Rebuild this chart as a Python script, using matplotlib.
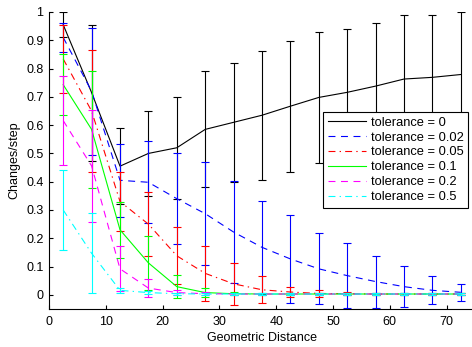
import matplotlib
matplotlib.use('Agg')
import matplotlib.pyplot as plt

plt.rcParams['font.family'] = ['Liberation Sans', 'DejaVu Sans']
plt.rcParams['font.size'] = 9
plt.rcParams['lines.scale_dashes'] = False

#%% data
distance = [2.5, 7.5, 12.5, 17.5, 22.5, 27.5, 32.5, 37.5, 42.5, 47.5, 52.5, 57.5, 62.5, 67.5, 72.5]

tol_labels = ['tolerance = 0', 'tolerance = 0.02', 'tolerance = 0.05',
              'tolerance = 0.1', 'tolerance = 0.2', 'tolerance = 0.5']

mean_0 = [0.955, 0.715, 0.455, 0.50, 0.52, 0.585, 0.61, 0.635, 0.667, 0.698, 0.716, 0.738, 0.763, 0.769, 0.779]
std_0 = [0.045, 0.24, 0.135, 0.15, 0.18, 0.205, 0.21, 0.228, 0.231, 0.232, 0.225, 0.224, 0.225, 0.219, 0.221]

mean_002 = [0.91, 0.72, 0.405, 0.398, 0.34, 0.287, 0.222, 0.168, 0.127, 0.092, 0.068, 0.047, 0.029, 0.016, 0.009]
std_002 = [0.05, 0.225, 0.128, 0.145, 0.161, 0.181, 0.179, 0.165, 0.155, 0.125, 0.115, 0.092, 0.072, 0.05, 0.031]

mean_005 = [0.834, 0.65, 0.33, 0.25, 0.138, 0.076, 0.039, 0.018, 0.010, 0.005, 0.004, 0.003, 0.003, 0.003, 0.003]
std_005 = [0.12, 0.217, 0.103, 0.114, 0.101, 0.097, 0.074, 0.047, 0.019, 0.013, 0.005, 0.004, 0.004, 0.004, 0.004]

mean_01 = [0.743, 0.585, 0.23, 0.113, 0.029, 0.008, 0.004, 0.003, 0.003, 0.003, 0.003, 0.003, 0.003, 0.003, 0.003]
std_01 = [0.107, 0.207, 0.10, 0.095, 0.041, 0.017, 0.006, 0.004, 0.004, 0.004, 0.004, 0.004, 0.004, 0.004, 0.004]

mean_02 = [0.616, 0.456, 0.092, 0.024, 0.008, 0.004, 0.003, 0.003, 0.003, 0.003, 0.003, 0.003, 0.003, 0.003, 0.003]
std_02 = [0.156, 0.197, 0.079, 0.031, 0.008, 0.005, 0.004, 0.004, 0.004, 0.004, 0.004, 0.004, 0.004, 0.004, 0.004]

mean_05 = [0.30, 0.147, 0.016, 0.008, 0.004, 0.003, 0.003, 0.003, 0.003, 0.003, 0.003, 0.003, 0.003, 0.003, 0.003]
std_05 = [0.14, 0.141, 0.009, 0.005, 0.004, 0.004, 0.004, 0.004, 0.004, 0.004, 0.004, 0.004, 0.004, 0.004, 0.004]

all_means = [mean_0, mean_002, mean_005, mean_01, mean_02, mean_05]
all_stds = [std_0, std_002, std_005, std_01, std_02, std_05]
colors = ['black', 'blue', 'red', '#00ff00', 'magenta', 'cyan']
styles = ['-', (0, (5, 4)), (0, (5, 3, 1, 3)), '-', (0, (5, 4)), (0, (5, 3, 1, 3))]

#%% plot
fig = plt.figure(figsize=(4.72, 3.47), dpi=100)
ax = fig.add_axes([49 / 472, 1 - 309 / 347, 426 / 472, 297 / 347])

for m, s, c, ls, lab in zip(all_means, all_stds, colors, styles, tol_labels):
    ax.errorbar(distance, m, yerr=s, fmt='none', ecolor=c, elinewidth=0.8,
                capsize=2.6, capthick=0.8)
    ax.plot(distance, m, color=c, linestyle=ls, linewidth=0.8, label=lab)

ax.set_xlim(0, 75)
ax.set_ylim(-0.05, 1)
ax.set_xticks(range(0, 80, 10))
ax.set_yticks([i / 10 for i in range(11)])
ax.set_yticklabels(['0', '0.1', '0.2', '0.3', '0.4', '0.5', '0.6', '0.7', '0.8', '0.9', '1'])
ax.tick_params(direction='in', length=3, width=0.8)
ax.tick_params(axis='x', pad=5)
ax.tick_params(axis='y', pad=4)
ax.spines['top'].set_visible(False)
ax.spines['right'].set_visible(False)

ax.set_xlabel('Geometric Distance', labelpad=3)
ax.set_ylabel('Changes/step', labelpad=4)

leg = ax.legend(loc='upper right', bbox_to_anchor=(0.984, 0.663), fancybox=False,
                edgecolor='black', framealpha=1, borderpad=0.35, labelspacing=0.22,
                handlelength=3.0, handletextpad=0.35, borderaxespad=0, fontsize=9.3)
leg.get_frame().set_linewidth(0.8)

fig.savefig('out.png', dpi=100)
